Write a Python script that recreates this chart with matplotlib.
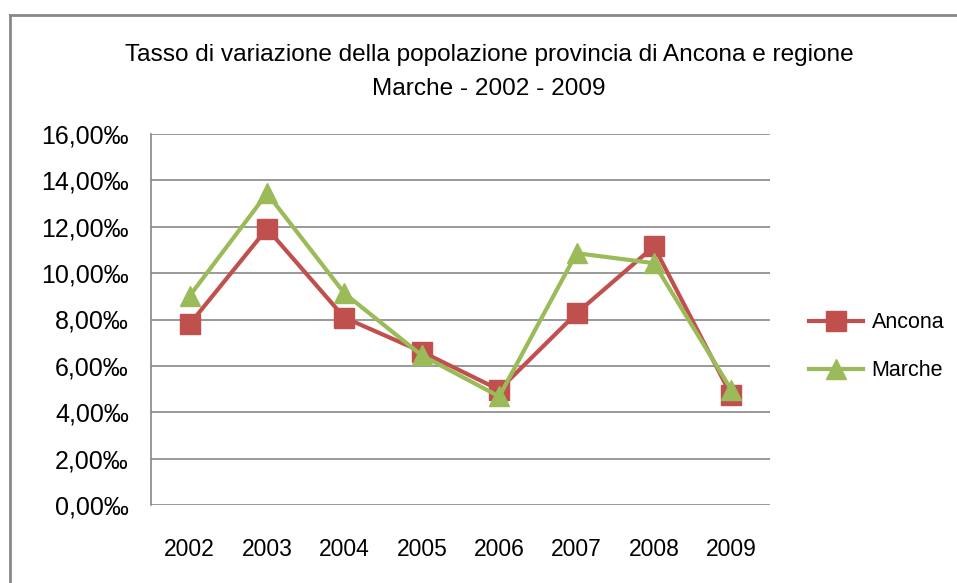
import matplotlib
matplotlib.use('Agg')
import matplotlib.pyplot as plt
import matplotlib.ticker as ticker
from matplotlib.lines import Line2D

# -- data (per mille)
years = ['2002', '2003', '2004', '2005', '2006', '2007', '2008', '2009']
ancona = [7.80, 11.92, 8.08, 6.61, 4.97, 8.27, 11.15, 4.73]
marche = [9.02, 13.44, 9.13, 6.45, 4.68, 10.86, 10.43, 4.97]
y_ticks = [0, 2, 4, 6, 8, 10, 12, 14, 16]

plt.rcParams['font.family'] = ['Liberation Sans', 'DejaVu Sans']

fig = plt.figure(figsize=(9.57, 5.83), dpi=100)
ax = fig.add_axes([151 / 957, 1 - 505 / 583, (770 - 151) / 957, (505 - 134) / 583])

x = range(len(years))
ax.plot(x, ancona, color='#C0504D', lw=3, marker='s', markersize=15, label='Ancona')
ax.plot(x, marche, color='#9BBB59', lw=3, marker='^', markersize=15, label='Marche')

ax.set_xlim(-0.5, len(years) - 0.5)
ax.set_ylim(0, 16)
ax.set_yticks(y_ticks)
ax.yaxis.set_major_formatter(ticker.FuncFormatter(lambda v, _: f"{v:.2f}".replace('.', ',') + '\u2030'))
ax.set_xticks(list(x))
ax.set_xticklabels(years)
ax.grid(axis='y', color='#888888', lw=1.2)
ax.set_axisbelow(True)
for side in ['top', 'right', 'bottom']:
    ax.spines[side].set_visible(False)
ax.spines['left'].set_color('#888888')
ax.spines['left'].set_linewidth(1.2)
ax.tick_params(length=0)
ax.tick_params(axis='y', pad=16, labelsize=18)
ax.tick_params(axis='x', pad=24, labelsize=16.5)

ax.legend(loc='center left', bbox_to_anchor=(1.032, 0.427), frameon=False,
          fontsize=15.5, handlelength=2.5, labelspacing=1.25, handletextpad=0.4)

fig.text(0.511, 0.906, 'Tasso di variazione della popolazione provincia di Ancona e regione',
         ha='center', va='center', fontsize=17.6)
fig.text(0.511, 0.847, 'Marche - 2002 - 2009',
         ha='center', va='center', fontsize=17.6)

# -- outer chart frame (left and top edges only visible)
fig.add_artist(Line2D([10 / 957, 10 / 957], [0, 1 - 15 / 583], transform=fig.transFigure, color='#888888', lw=2))
fig.add_artist(Line2D([10 / 957, 1], [1 - 15 / 583, 1 - 15 / 583], transform=fig.transFigure, color='#888888', lw=2))

fig.savefig('out.png', dpi=100)
